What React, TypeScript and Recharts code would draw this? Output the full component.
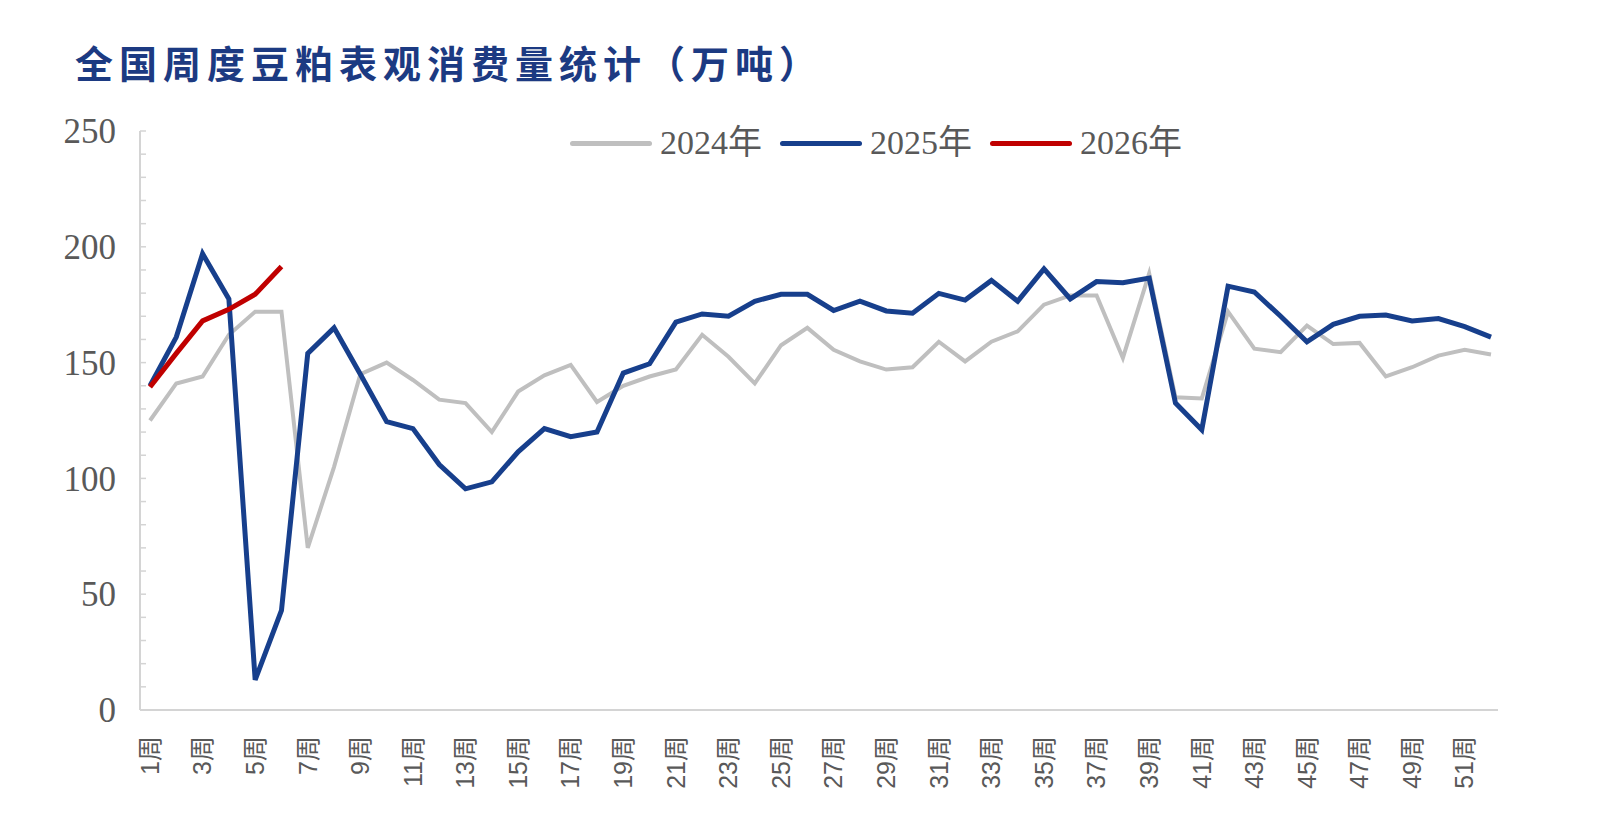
import React from 'react';
import { LineChart, Line, XAxis, YAxis, Legend } from 'recharts';

// weekly categories
const weeks = [
  '1周', '2周', '3周', '4周', '5周', '6周', '7周', '8周', '9周', '10周',
  '11周', '12周', '13周', '14周', '15周', '16周', '17周', '18周', '19周', '20周',
  '21周', '22周', '23周', '24周', '25周', '26周', '27周', '28周', '29周', '30周',
  '31周', '32周', '33周', '34周', '35周', '36周', '37周', '38周', '39周', '40周',
  '41周', '42周', '43周', '44周', '45周', '46周', '47周', '48周', '49周', '50周',
  '51周', '52周',
];

// apparent soybean meal consumption, 10k tonnes
const consumption2024 = [
  125, 141, 144, 162, 172, 172, 70, 105, 145, 150,
  142.5, 134, 132.5, 120, 137.5, 144.5, 149, 133, 140, 144,
  147, 162, 152.5, 141, 157.5, 165, 155.5, 150.5, 147, 148,
  159, 150.5, 159, 163.5, 175, 179, 179, 152, 188.5, 135,
  134.5, 172, 156, 154.5, 166, 158, 158.5, 144, 148, 153,
  155.5, 153.5,
];

const consumption2025 = [
  140, 161, 197, 177.5, 13, 43, 154, 165, 145, 124.5,
  121.5, 106, 95.5, 98.5, 111.5, 121.5, 118, 120, 145.5, 149.5,
  167.5, 171, 170, 176.5, 179.5, 179.5, 172.5, 176.5, 172.3, 171.3,
  179.9, 177, 185.5, 176.5, 190.5, 177.5, 185, 184.5, 186.5, 132.5,
  121, 183, 180.5, 170, 159, 166.5, 170, 170.5, 168, 169,
  165.5, 161,
];

const consumption2026 = [139.5, 154, 168, 173, 179.5, 191.5];

const yTicks = [
  0, 10, 20, 30, 40, 50, 60, 70, 80, 90, 100, 110, 120, 130,
  140, 150, 160, 170, 180, 190, 200, 210, 220, 230, 240, 250,
];

const data = weeks.map((w, i) => ({
  week: w,
  y2024: consumption2024[i],
  y2025: consumption2025[i],
  y2026: i < consumption2026.length ? consumption2026[i] : null,
}));

const AXIS_X = 140;
const TEXT_GRAY = '#595959';
const AXIS_GRAY = '#d4d4d4';

const YTick = (props: any) => {
  const { x, y, payload } = props;
  const v = payload.value as number;
  return (
    <g>
      {v > 0 && (
        <line x1={AXIS_X} x2={AXIS_X + 6} y1={y} y2={y} stroke={AXIS_GRAY} strokeWidth={1.5} />
      )}
      {v % 50 === 0 && (
        <text
          x={x}
          y={y}
          dy="0.35em"
          textAnchor="end"
          fill={TEXT_GRAY}
          fontSize={35}
          fontFamily="'Liberation Serif', serif"
        >
          {v}
        </text>
      )}
    </g>
  );
};

const XTick = (props: any) => {
  const { x, y, payload } = props;
  return (
    <text
      transform={`translate(${x},${y}) rotate(-90)`}
      textAnchor="end"
      dy="0.35em"
      fill={TEXT_GRAY}
      fontSize={25}
      fontFamily="'Liberation Sans', 'Noto Sans CJK SC', sans-serif"
    >
      {payload.value}
    </text>
  );
};

const renderLegend = (props: any) => {
  const { payload } = props;
  return (
    <div style={{ display: 'flex', alignItems: 'center' }}>
      {payload.map((entry: any) => (
        <div key={entry.value} style={{ display: 'flex', alignItems: 'center', width: 210 }}>
          <span
            style={{
              display: 'inline-block',
              width: 82,
              height: 5,
              borderRadius: 3,
              background: entry.color,
            }}
          />
          <span
            style={{
              marginLeft: 8,
              fontSize: 34,
              lineHeight: '38px',
              color: TEXT_GRAY,
              fontFamily: "'Liberation Serif', 'Noto Sans CJK SC', serif",
            }}
          >
            {entry.value}
          </span>
        </div>
      ))}
    </div>
  );
};

export default function App() {
  return (
    <div
      style={{
        position: 'absolute',
        left: 0,
        top: 0,
        width: 1622,
        height: 834,
        background: '#fff',
        overflow: 'hidden',
      }}
    >
      <div
        style={{
          position: 'absolute',
          left: 75,
          top: 42,
          fontSize: 38,
          lineHeight: '40px',
          letterSpacing: 6,
          fontWeight: 700,
          color: '#1c3a82',
          fontFamily: "'Noto Sans CJK SC', sans-serif",
          whiteSpace: 'nowrap',
        }}
      >
        全国周度豆粕表观消费量统计（万吨）
      </div>
      <LineChart
        width={1622}
        height={834}
        data={data}
        margin={{ top: 131, right: 124, bottom: 24, left: 0 }}
      >
        <XAxis
          dataKey="week"
          interval={1}
          height={100}
          padding={{ left: 10, right: 7 }}
          tickLine={false}
          tickSize={0}
          tickMargin={26}
          tick={<XTick />}
          axisLine={{ stroke: AXIS_GRAY, strokeWidth: 2 }}
        />
        <YAxis
          width={140}
          domain={[0, 250]}
          ticks={yTicks}
          interval={0}
          tickLine={false}
          tickSize={0}
          tickMargin={24}
          tick={<YTick />}
          axisLine={{ stroke: AXIS_GRAY, strokeWidth: 2 }}
        />
        <Legend
          content={renderLegend}
          wrapperStyle={{ left: 570, top: 124, width: 700, height: 0, overflow: 'visible' }}
        />
        <Line
          name="2024年"
          dataKey="y2024"
          stroke="#bfbfbf"
          strokeWidth={4}
          dot={false}
          activeDot={false}
          isAnimationActive={false}
        />
        <Line
          name="2025年"
          dataKey="y2025"
          stroke="#173f8c"
          strokeWidth={5}
          dot={false}
          activeDot={false}
          isAnimationActive={false}
        />
        <Line
          name="2026年"
          dataKey="y2026"
          stroke="#c00000"
          strokeWidth={5}
          dot={false}
          activeDot={false}
          isAnimationActive={false}
        />
      </LineChart>
    </div>
  );
}
